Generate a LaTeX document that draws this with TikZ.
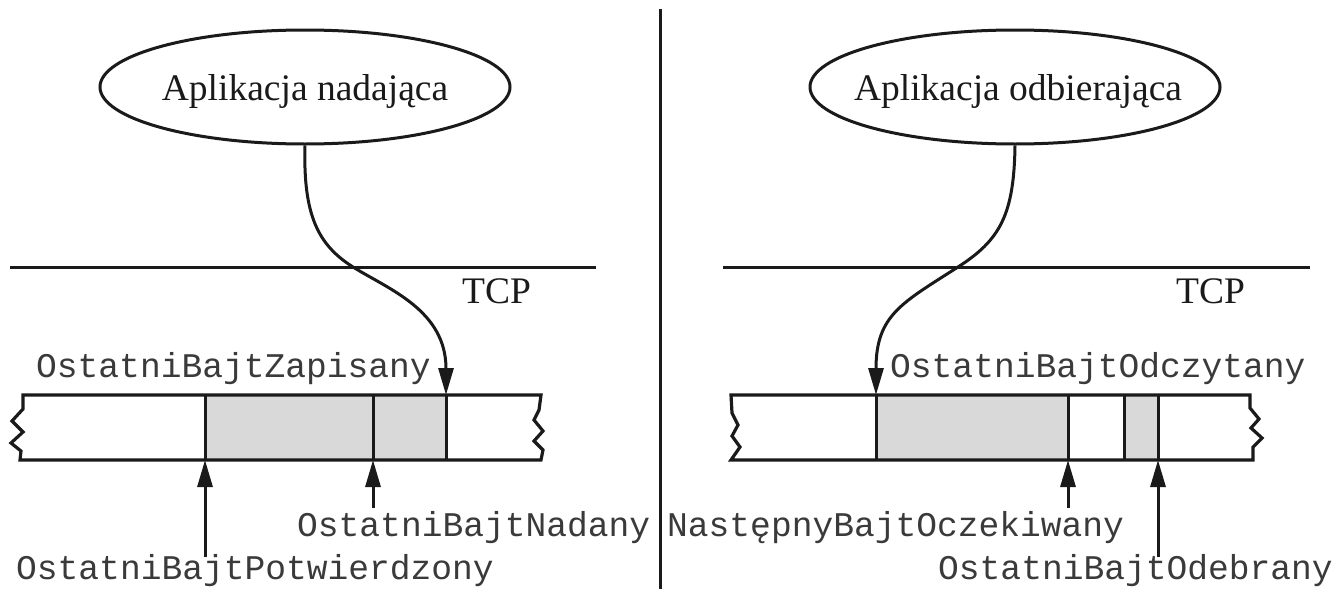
\documentclass[tikz,border=0pt]{standalone}
\usepackage{fontspec}
\setmainfont{Liberation Serif}
\newfontfamily\monofnt{Liberation Mono}
\usetikzlibrary{shapes.geometric,arrows.meta}
\definecolor{bufgray}{HTML}{D9D9D9}
\definecolor{ink}{HTML}{1A1A1A}
\definecolor{monoink}{HTML}{3A3A3A}
\tikzset{
  ln/.style={draw=ink, line width=3pt},
  appbox/.style={ellipse, draw=ink, line width=3pt, minimum width=410pt, minimum height=114pt, inner sep=0pt},
  apptext/.style={font=\fontsize{37.5}{44}\selectfont, text=ink, inner sep=0pt},
  monolbl/.style={font=\monofnt\fontsize{34.6}{40}\selectfont, text=monoink, inner sep=0pt, anchor=base west},
  arr/.style={ln, -{Triangle[length=27pt,width=15pt]}},
  bufline/.style={draw=ink, line width=3.2pt, line join=miter},
}
\begin{document}
\begin{tikzpicture}[x=1pt,y=-1pt]
\useasboundingbox (0,0) rectangle (1338,589);
\fill[white] (0,0) rectangle (1338,589);

% divider
\coordinate (divtop) at (660,9);
\coordinate (divbot) at (660,589);
\draw[ln] (divtop) -- (divbot);

% applications
\node[appbox] (app1) at (305,87) {};
\node[apptext, anchor=base] (app1t) at (305,100) {Aplikacja nadająca};
\node[appbox] (app2) at (1015,87) {};
\node[apptext, anchor=base] (app2t) at (1018,100) {Aplikacja odbierająca};

% TCP lines
\coordinate (tcp1a) at (10,267);
\coordinate (tcp1b) at (596,267);
\coordinate (tcp2a) at (723,267);
\coordinate (tcp2b) at (1310,267);
\draw[ln] (tcp1a) -- (tcp1b);
\draw[ln] (tcp2a) -- (tcp2b);
\node[apptext, anchor=base west] (tcp1) at (462,303) {TCP};
\node[apptext, anchor=base west] (tcp2) at (1176,303) {TCP};

% left buffer
\fill[bufgray] (205,395) rectangle (446,460);
\draw[bufline] (23,395) -- (541,395) -- (539,410) -- (534,420) -- (543,431) -- (534,441) -- (543,450) -- (541,460)
  -- (20,460) -- (21,451) -- (11,443) -- (23,432) -- (12,421) -- (23,409) -- cycle;
\draw[ln] (205,395) -- (205,460);
\draw[ln] (373,395) -- (373,460);
\draw[ln] (446,395) -- (446,460);

% right buffer
\fill[bufgray] (876,395) rectangle (1068,460);
\fill[bufgray] (1124,395) rectangle (1158,460);
\draw[bufline] (731,395) -- (1250,395) -- (1250,408) -- (1259,419) -- (1251,428) -- (1262,438) -- (1253,447) -- (1253,460)
  -- (731,460) -- (740,447) -- (732,436) -- (738,425) -- (732,413) -- cycle;
\draw[ln] (876,395) -- (876,460);
\draw[ln] (1068,395) -- (1068,460);
\draw[ln] (1124,395) -- (1124,460);
\draw[ln] (1158,395) -- (1158,460);

% pointer coordinates
\coordinate (lastwritten) at (446,395);
\coordinate (lastread) at (876,395);
\coordinate (lastack) at (205,460);
\coordinate (lastackS) at (205,557);
\coordinate (lastsent) at (373,460);
\coordinate (lastsentS) at (373,508);
\coordinate (nextexp) at (1068,460);
\coordinate (nextexpS) at (1068,508);
\coordinate (lastrcvd) at (1158,460);
\coordinate (lastrcvdS) at (1158,557);

% curved arrows from applications
\draw[arr] (app1.south) .. controls (303,215) and (318,245) .. (353,267)
  .. controls (388,289) and (446,310) .. (lastwritten);
\draw[arr] (app2.south) .. controls (1014,215) and (1000,240) .. (958,267)
  .. controls (902,303) and (876,315) .. (lastread);

% upward arrows
\draw[arr] (lastackS) -- (lastack);
\draw[arr] (lastsentS) -- (lastsent);
\draw[arr] (nextexpS) -- (nextexp);
\draw[arr] (lastrcvdS) -- (lastrcvd);

% labels
\node[monolbl] (lblZap) at (36,377) {OstatniBajtZapisany};
\node[monolbl] (lblOdcz) at (890,377) {OstatniBajtOdczytany};
\node[monolbl] (lblNad) at (297,536) {OstatniBajtNadany};
\node[monolbl] (lblPotw) at (16,579) {OstatniBajtPotwierdzony};
\node[monolbl] (lblOcz) at (667,536) {NastępnyBajtOczekiwany};
\node[monolbl] (lblOdeb) at (938,579) {OstatniBajtOdebrany};
\end{tikzpicture}
\end{document}
